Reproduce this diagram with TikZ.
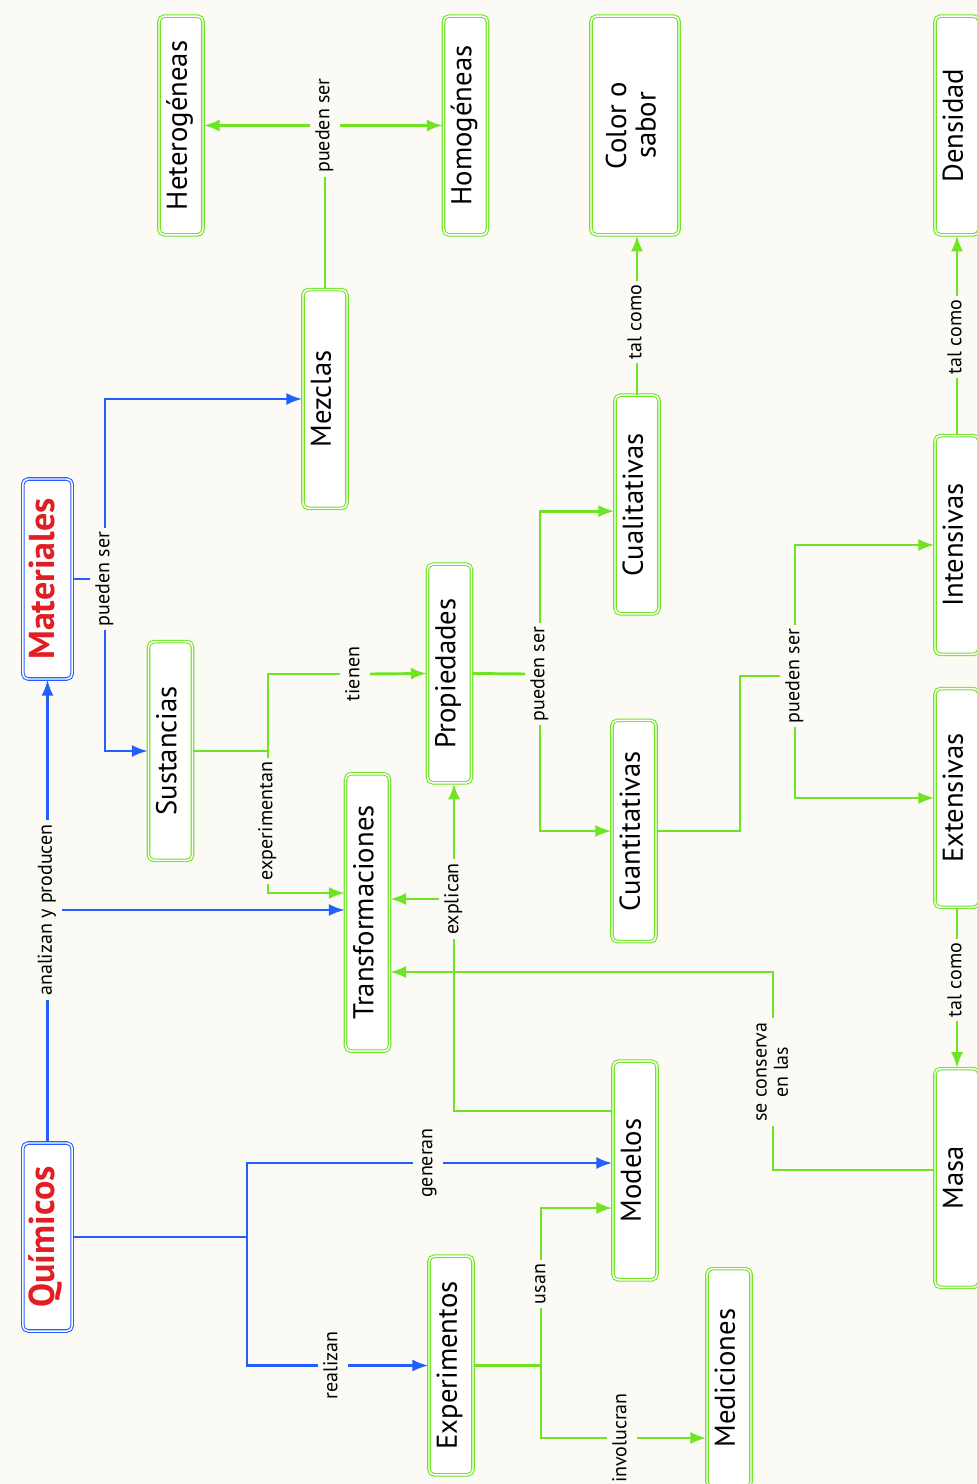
\documentclass[tikz,border=0pt]{standalone}
\usepackage{fontspec}
\setmainfont{PT Sans}
\usepackage{graphicx}
\usetikzlibrary{arrows.meta}

\definecolor{mapblue}{RGB}{35,95,255}
\definecolor{mapgreen}{RGB}{110,228,35}
\definecolor{mapred}{RGB}{225,30,35}
\definecolor{paper}{RGB}{251,250,245}

\newcommand\vtext[1]{\rotatebox{90}{\begin{tabular}{@{}c@{}}#1\end{tabular}}}

\begin{document}
\begin{tikzpicture}[x=0.75pt,y=-0.75pt,
concept/.style={draw=mapgreen,double=white,double distance=1.1pt,line width=0.8pt,rounded corners=4pt,fill=white,inner sep=0pt,minimum width=33pt,minimum height=164pt,font=\fontsize{21.5}{22}\selectfont},
main/.style={concept,draw=mapblue,text=mapred,font=\fontsize{27}{28}\selectfont\bfseries,minimum width=37pt},
link/.style={inner sep=3pt,font=\fontsize{15}{16}\selectfont},
gline/.style={draw=mapgreen,line width=2.2pt},
bline/.style={draw=mapblue,line width=2.2pt},
toarrow/.style={-{Latex[length=12pt,width=9pt]}}]
\fill[paper] (0,0) rectangle (977,1484);
\useasboundingbox (0,0) rectangle (977,1484);

% conceptos
\node[main,minimum height=150pt] (mat) at (47.5,579) {\vtext{Materiales}};
\node[main,minimum height=141pt] (quim) at (47.5,1237) {\vtext{Químicos}};
\node[concept] (het) at (181,125.5) {\vtext{Heterogéneas}};
\node[concept] (hom) at (465.5,125.5) {\vtext{Homogéneas}};
\node[concept,minimum width=66pt] (col) at (635,125.5) {\vtext{Color o\\sabor}};
\node[concept] (den) at (957,125.5) {\vtext{Densidad}};
\node[concept] (mez) at (325,399) {\vtext{Mezclas}};
\node[concept] (sust) at (170.5,751) {\vtext{Sustancias}};
\node[concept] (prop) at (449.5,673.5) {\vtext{Propiedades}};
\node[concept] (cual) at (637,504.5) {\vtext{Cualitativas}};
\node[concept,minimum height=166pt] (cuan) at (634,831) {\vtext{Cuantitativas}};
\node[concept,minimum height=208pt] (trans) at (367.5,912.5) {\vtext{Transformaciones}};
\node[concept] (int) at (957,545) {\vtext{Intensivas}};
\node[concept] (ext) at (957,798) {\vtext{Extensivas}};
\node[concept] (masa) at (957,1178) {\vtext{Masa}};
\node[concept] (mod) at (635,1170.5) {\vtext{Modelos}};
\node[concept] (exp) at (451,1365.5) {\vtext{Experimentos}};
\node[concept] (med) at (729,1378) {\vtext{Mediciones}};

% enlaces
\node[link] (lAna) at (47.5,910) {\vtext{analizan y producen}};
\node[link] (lPs1) at (105,579) {\vtext{pueden ser}};
\node[link] (lGen) at (428,1163) {\vtext{generan}};
\node[link] (lReal) at (333,1365.5) {\vtext{realizan}};
\node[link] (lPs2) at (325,125.5) {\vtext{pueden ser}};
\node[link] (lTien) at (355,674) {\vtext{tienen}};
\node[link] (lExpe) at (268,821) {\vtext{experimentan}};
\node[link] (lPs3) at (540,674) {\vtext{pueden ser}};
\node[link] (lPs4) at (795,676) {\vtext{pueden ser}};
\node[link] (lTal1) at (637,322) {\vtext{tal como}};
\node[link] (lTal2) at (957,337) {\vtext{tal como}};
\node[link] (lTal3) at (957,980) {\vtext{tal como}};
\node[link] (lCons) at (773,1072) {\vtext{se conserva\\en las}};
\node[link] (lExpl) at (454,899) {\vtext{explican}};
\node[link] (lUsan) at (541,1284) {\vtext{usan}};
\node[link] (lInv) at (622,1438) {\vtext{involucran}};

% Quimicos
\draw[bline] (quim.north) -- (lAna.south);
\draw[bline,toarrow] (lAna.north) -- (mat.south);
\draw[bline,toarrow] (lAna.east) -- (lAna.east -| trans.west);
\coordinate (qJ) at (247,1237);
\draw[bline] (quim.east) -- (qJ);
\draw[bline] (qJ) |- (lGen.west);
\draw[bline,toarrow] (lGen.east) -- (lGen.east -| mod.west);
\draw[bline] (qJ) |- (lReal.west);
\draw[bline,toarrow] (lReal.east) -- (exp.west);
% Materiales
\draw[bline] (mat.east) -- (lPs1.west);
\draw[bline,toarrow] (lPs1.north) |- (mez.west);
\draw[bline,toarrow] (lPs1.south) |- (sust.west);
% Mezclas
\draw[gline] (mez.north) -- (lPs2.south);
\draw[gline,toarrow] (lPs2.west) -- (het.east);
\draw[gline,toarrow] (lPs2.east) -- (hom.west);
% Sustancias
\coordinate (sJ) at (268,751);
\draw[gline] (sust.east) -- (sJ) |- (lTien.west);
\draw[gline,toarrow] (lTien.east) -- (prop.west);
\draw[gline] (sJ) -- (lExpe.north);
\draw[gline,toarrow] (lExpe.south) |- (trans.west |- 0,893);
% Propiedades
\draw[gline] (prop.east) -- (lPs3.west);
\draw[gline,toarrow] (lPs3.north) |- ([yshift=-5pt]cual.west);
\draw[gline,toarrow] (lPs3.south) |- (cuan.west);
% Cuantitativas
\coordinate (cJ) at (740,831);
\draw[gline] (cuan.east) -- (cJ) |- (lPs4.west);
\draw[gline,toarrow] (lPs4.north) |- (int.west);
\draw[gline,toarrow] (lPs4.south) |- (ext.west);
% tal como
\draw[gline] (cual.north) -- (lTal1.south);
\draw[gline,toarrow] (lTal1.north) -- (lTal1.north |- col.south);
\draw[gline] (int.north) -- (lTal2.south);
\draw[gline,toarrow] (lTal2.north) -- (den.south);
\draw[gline] (ext.south) -- (lTal3.north);
\draw[gline,toarrow] (lTal3.south) -- (masa.north);
% Masa
\coordinate (mJ) at (773,972);
\draw[gline] ([yshift=6pt]masa.west) -| (lCons.south);
\draw[gline,toarrow] (lCons.north) -- (mJ) -- (mJ -| trans.east);
% Modelos
\draw[gline] (mod.west |- 0,1111) -| (lExpl.south);
\draw[gline,toarrow] (lExpl.north) -- (lExpl.north |- prop.south);
\draw[gline,toarrow] (lExpl.west) -- (lExpl.west -| trans.east);
% Experimentos
\coordinate (xJ) at (541,1365.5);
\draw[gline] (exp.east) -- (xJ) -- (lUsan.south);
\draw[gline,toarrow] (lUsan.north) |- (mod.west |- 0,1208);
\draw[gline] (xJ) |- (lInv.west);
\draw[gline,toarrow] (lInv.east) -- (lInv.east -| med.west);
\end{tikzpicture}
\end{document}
